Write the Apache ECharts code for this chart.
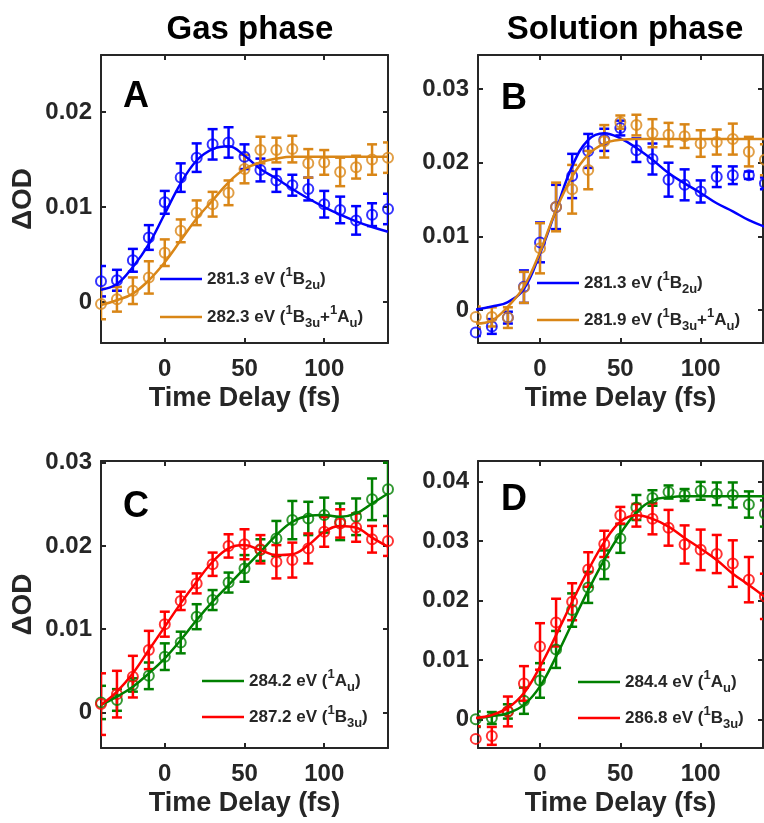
<!DOCTYPE html>
<html>
<head>
<meta charset="utf-8">
<script src="https://cdn.jsdelivr.net/npm/echarts@6/dist/echarts.min.js"></script>
<style>
  html, body { margin: 0; padding: 0; background: #fff; }
  #chart { width: 764px; height: 823px; }
</style>
</head>
<body>
<div id="chart"></div>
<script>
// ---------- data ----------
const timeFs = [-40, -30, -20, -10, 0, 10, 20, 30, 40, 50, 60, 70, 80, 90, 100, 110, 120, 130, 140];
const xTicks = [0, 50, 100];
const columnTitles = ['Gas phase', 'Solution phase'];
const panelLetters = ['A', 'B', 'C', 'D'];
const xAxisTitle = 'Time Delay (fs)';
const yAxisTitle = '\u0394OD';

// Panel A (gas phase)
const aBlueY   = [0.0022, 0.0023, 0.0044, 0.0068, 0.0105, 0.0131, 0.0152, 0.0166, 0.0168, 0.0153, 0.0139, 0.0128, 0.0123, 0.0119, 0.0103, 0.0097, 0.0086, 0.0092, 0.0098];
const aBlueErr = [0.0016, 0.0011, 0.0012, 0.0013, 0.0012, 0.0015, 0.0015, 0.0016, 0.0016, 0.0013, 0.0012, 0.0012, 0.0011, 0.0012, 0.0014, 0.0014, 0.0015, 0.0012, 0.0016];
const aBlueFit = [0.0013, 0.0019, 0.0037, 0.0061, 0.0093, 0.0125, 0.0149, 0.0161, 0.0164, 0.0154, 0.0140, 0.0130, 0.0119, 0.0109, 0.0100, 0.0092, 0.0085, 0.0079, 0.0074];
const aOrangeY   = [-0.0002, 0.0003, 0.0012, 0.0026, 0.0052, 0.0075, 0.0094, 0.0103, 0.0115, 0.0140, 0.0160, 0.0160, 0.0161, 0.0146, 0.0147, 0.0137, 0.0142, 0.0150, 0.0152];
const aOrangeErr = [0.0016, 0.0013, 0.0014, 0.0017, 0.0014, 0.0012, 0.0013, 0.0013, 0.0013, 0.0015, 0.0014, 0.0013, 0.0014, 0.0015, 0.0013, 0.0015, 0.0012, 0.0016, 0.0016];
const aOrangeFit = [-0.0003, 0.0002, 0.0009, 0.0023, 0.0042, 0.0065, 0.0088, 0.0107, 0.0126, 0.0140, 0.0147, 0.0151, 0.0153, 0.0153, 0.0153, 0.0153, 0.0153, 0.0153, 0.0153];

// Panel B (solution phase)
const bBlueY   = [-0.0030, -0.0022, -0.0010, 0.0032, 0.0092, 0.0140, 0.0182, 0.0216, 0.0231, 0.0247, 0.0217, 0.0205, 0.0177, 0.0170, 0.0161, 0.0181, 0.0183, 0.0183, 0.0172];
const bBlueErr = [0.0005, 0.0010, 0.0008, 0.0022, 0.0027, 0.0030, 0.0030, 0.0023, 0.0015, 0.0010, 0.0016, 0.0021, 0.0023, 0.0021, 0.0015, 0.0014, 0.0012, 0.0005, 0.0008];
const bBlueFit = [0.0001, 0.0005, 0.0011, 0.0029, 0.0077, 0.0136, 0.0195, 0.0231, 0.0240, 0.0233, 0.0220, 0.0204, 0.0186, 0.0172, 0.0159, 0.0145, 0.0134, 0.0122, 0.0113];
const bOrangeY   = [-0.0009, -0.0009, -0.0010, 0.0031, 0.0084, 0.0140, 0.0164, 0.0190, 0.0229, 0.0255, 0.0251, 0.0240, 0.0238, 0.0236, 0.0226, 0.0228, 0.0232, 0.0215, 0.0204];
const bOrangeErr = [0.0014, 0.0013, 0.0014, 0.0021, 0.0034, 0.0033, 0.0033, 0.0026, 0.0022, 0.0009, 0.0014, 0.0019, 0.0016, 0.0016, 0.0018, 0.0017, 0.0021, 0.0020, 0.0021];
const bOrangeFit = [-0.0018, -0.0014, 0.0005, 0.0032, 0.0079, 0.0136, 0.0181, 0.0211, 0.0226, 0.0231, 0.0232, 0.0232, 0.0232, 0.0232, 0.0232, 0.0232, 0.0232, 0.0232, 0.0232];

// Panel C (gas phase)
const cGreenY   = [0.0012, 0.0015, 0.0033, 0.0044, 0.0067, 0.0084, 0.0115, 0.0135, 0.0156, 0.0173, 0.0195, 0.0209, 0.0231, 0.0233, 0.0237, 0.0229, 0.0235, 0.0256, 0.0268];
const cGreenErr = [0.0020, 0.0013, 0.0008, 0.0016, 0.0016, 0.0013, 0.0015, 0.0012, 0.0012, 0.0016, 0.0013, 0.0021, 0.0023, 0.0020, 0.0021, 0.0022, 0.0022, 0.0025, 0.0032];
const cGreenFit = [0.0009, 0.0019, 0.0031, 0.0047, 0.0065, 0.0087, 0.0111, 0.0133, 0.0153, 0.0173, 0.0193, 0.0213, 0.0229, 0.0236, 0.0237, 0.0235, 0.0239, 0.0251, 0.0263];
const cRedY   = [0.0010, 0.0022, 0.0043, 0.0075, 0.0106, 0.0134, 0.0155, 0.0178, 0.0200, 0.0202, 0.0196, 0.0181, 0.0183, 0.0197, 0.0217, 0.0227, 0.0222, 0.0208, 0.0206];
const cRedErr = [0.0037, 0.0028, 0.0025, 0.0023, 0.0015, 0.0011, 0.0012, 0.0014, 0.0014, 0.0018, 0.0017, 0.0020, 0.0021, 0.0018, 0.0018, 0.0017, 0.0017, 0.0016, 0.0018];
const cRedFit = [0.0009, 0.0025, 0.0047, 0.0075, 0.0103, 0.0131, 0.0157, 0.0181, 0.0197, 0.0201, 0.0195, 0.0189, 0.0190, 0.0201, 0.0217, 0.0224, 0.0222, 0.0210, 0.0199];

// Panel D (solution phase)
const dGreenY   = [0.0001, 0.0003, 0.0014, 0.0032, 0.0066, 0.0118, 0.0184, 0.0222, 0.0260, 0.0304, 0.0356, 0.0372, 0.0382, 0.0377, 0.0384, 0.0379, 0.0377, 0.0361, 0.0346];
const dGreenErr = [0.0013, 0.0010, 0.0012, 0.0022, 0.0029, 0.0031, 0.0028, 0.0026, 0.0024, 0.0024, 0.0021, 0.0013, 0.0011, 0.0010, 0.0015, 0.0019, 0.0021, 0.0022, 0.0022];
const dGreenFit = [0.0003, 0.0006, 0.0011, 0.0025, 0.0056, 0.0106, 0.0162, 0.0217, 0.0268, 0.0312, 0.0348, 0.0368, 0.0373, 0.0375, 0.0375, 0.0375, 0.0375, 0.0375, 0.0375];
const dRedY   = [-0.0032, -0.0027, 0.0014, 0.0061, 0.0123, 0.0163, 0.0198, 0.0252, 0.0295, 0.0343, 0.0343, 0.0337, 0.0322, 0.0294, 0.0285, 0.0278, 0.0262, 0.0235, 0.0207];
const dRedErr = [0.0021, 0.0015, 0.0025, 0.0029, 0.0039, 0.0040, 0.0031, 0.0029, 0.0022, 0.0014, 0.0019, 0.0026, 0.0030, 0.0032, 0.0034, 0.0032, 0.0039, 0.0038, 0.0038];
const dRedFit = [0.0003, 0.0008, 0.0020, 0.0045, 0.0089, 0.0142, 0.0198, 0.0251, 0.0298, 0.0332, 0.0343, 0.0337, 0.0324, 0.0305, 0.0287, 0.0268, 0.0245, 0.0226, 0.0206];

// Legend labels
const legendA = ['281.3 eV', '282.3 eV'];
const legendB = ['281.3 eV', '281.9 eV'];
const legendC = ['284.2 eV', '287.2 eV'];
const legendD = ['284.4 eV', '286.8 eV'];
const yTicksA = [0, 0.01, 0.02];
const yTicksB = [0, 0.01, 0.02, 0.03];
const yTicksC = [0, 0.01, 0.02, 0.03];
const yTicksD = [0, 0.01, 0.02, 0.03, 0.04];

// ---------- styling ----------
const FONT = '"Liberation Sans", Arial, Helvetica, sans-serif';
const AX = '#262626';
const BLUE = '#0000FF';
const ORANGE = '#D98617';
const GREEN = '#008000';
const RED = '#FF0000';

// rich legend strings (state symbols with super/subscripts)
const sym = {
  B2u: '{n|(}{sup|1}{n|B}{sub|2u}{n|)}',
  B3uAu: '{n|(}{sup|1}{n|B}{sub|3u}{n|+}{sup|1}{n|A}{sub|u}{n|)}',
  Au: '{n|(}{sup|1}{n|A}{sub|u}{n|)}',
  B3u: '{n|(}{sup|1}{n|B}{sub|3u}{n|)}'
};

const panels = [
  { key: 'A', grid: { left: 101, top: 55, width: 287, height: 288 }, x: [-40, 140], y: [-0.0043, 0.026], yTicks: yTicksA,
    letterPos: [118, 74],
    sets: [
      { name: 'A1', color: BLUE, y: aBlueY, err: aBlueErr, fit: aBlueFit, label: legendA[0], sym: sym.B2u, leg: [160, 279] },
      { name: 'A2', color: ORANGE, y: aOrangeY, err: aOrangeErr, fit: aOrangeFit, label: legendA[1], sym: sym.B3uAu, leg: [160, 317] }
    ], yName: true },
  { key: 'B', grid: { left: 478, top: 55, width: 285, height: 288 }, x: [-38.6, 138.8], y: [-0.00444, 0.0346], yTicks: yTicksB,
    letterPos: [496, 76],
    sets: [
      { name: 'B1', color: BLUE, y: bBlueY, err: bBlueErr, fit: bBlueFit, label: legendB[0], sym: sym.B2u, leg: [537, 283] },
      { name: 'B2', color: ORANGE, y: bOrangeY, err: bOrangeErr, fit: bOrangeFit, label: legendB[1], sym: sym.B3uAu, leg: [537, 320] }
    ], yName: false },
  { key: 'C', grid: { left: 101, top: 461, width: 287, height: 287 }, x: [-40, 140], y: [-0.00427, 0.0302], yTicks: yTicksC,
    letterPos: [118, 484],
    sets: [
      { name: 'C1', color: GREEN, y: cGreenY, err: cGreenErr, fit: cGreenFit, label: legendC[0], sym: sym.Au, leg: [202, 681] },
      { name: 'C2', color: RED, y: cRedY, err: cRedErr, fit: cRedFit, label: legendC[1], sym: sym.B3u, leg: [202, 717] }
    ], yName: true },
  { key: 'D', grid: { left: 478, top: 461, width: 285, height: 287 }, x: [-38.6, 138.8], y: [-0.00473, 0.0434], yTicks: yTicksD,
    letterPos: [496, 477],
    sets: [
      { name: 'D1', color: GREEN, y: dGreenY, err: dGreenErr, fit: dGreenFit, label: legendD[0], sym: sym.Au, leg: [578, 682] },
      { name: 'D2', color: RED, y: dRedY, err: dRedErr, fit: dRedFit, label: legendD[1], sym: sym.B3u, leg: [578, 718] }
    ], yName: false }
];

const richStyle = {
  n:   { fontSize: 17, fontWeight: 'bold', fontFamily: FONT, color: AX, lineHeight: 26 },
  sup: { fontSize: 13, fontWeight: 'bold', fontFamily: FONT, color: AX, lineHeight: 26, verticalAlign: 'top' },
  sub: { fontSize: 13, fontWeight: 'bold', fontFamily: FONT, color: AX, lineHeight: 26, verticalAlign: 'bottom' }
};

const option = {
  animation: false,
  backgroundColor: '#ffffff',
  title: [], grid: [], xAxis: [], yAxis: [], series: [], legend: []
};

option.title.push({ text: columnTitles[0], left: 245, top: 8, textAlign: 'center',
  textStyle: { fontFamily: FONT, fontSize: 33, fontWeight: 'bold', color: '#000' } });
option.title.push({ text: columnTitles[1], left: 620, top: 8, textAlign: 'center',
  textStyle: { fontFamily: FONT, fontSize: 33, fontWeight: 'bold', color: '#000' } });

const axisLineStyle = { color: AX, width: 2 };

panels.forEach((p, i) => {
  option.grid.push(Object.assign({ containLabel: false }, p.grid));
  option.title.push({ text: panelLetters[i], left: p.letterPos[0], top: p.letterPos[1],
    textStyle: { fontFamily: FONT, fontSize: 36, fontWeight: 'bold', color: '#000' } });

  const xBase = { type: 'value', gridIndex: i, min: p.x[0], max: p.x[1], splitLine: { show: false } };
  option.xAxis.push(Object.assign({}, xBase, {
    position: 'bottom',
    axisLine: { show: true, onZero: false, lineStyle: axisLineStyle },
    axisTick: { show: true, inside: true, length: 5, customValues: xTicks, lineStyle: axisLineStyle },
    axisLabel: { show: true, customValues: xTicks, margin: 14, fontFamily: FONT, fontSize: 24, fontWeight: 'bold', color: AX },
    name: xAxisTitle, nameLocation: 'middle', nameGap: 42,
    nameTextStyle: { fontFamily: FONT, fontSize: 27, fontWeight: 'bold', color: AX }
  }));
  option.xAxis.push(Object.assign({}, xBase, {
    position: 'top',
    axisLine: { show: true, onZero: false, lineStyle: axisLineStyle },
    axisTick: { show: true, inside: true, length: 5, customValues: xTicks, lineStyle: axisLineStyle },
    axisLabel: { show: false }
  }));
  const yBase = { type: 'value', gridIndex: i, min: p.y[0], max: p.y[1], splitLine: { show: false } };
  option.yAxis.push(Object.assign({}, yBase, {
    position: 'left',
    axisLine: { show: true, onZero: false, lineStyle: axisLineStyle },
    axisTick: { show: true, inside: true, length: 5, customValues: p.yTicks, lineStyle: axisLineStyle },
    axisLabel: { show: true, customValues: p.yTicks, margin: 9, fontFamily: FONT, fontSize: 24, fontWeight: 'bold', color: AX,
      formatter: v => (Math.abs(v) < 1e-12 ? '0' : String(+v.toFixed(3))) },
    name: p.yName ? yAxisTitle : '', nameLocation: 'middle', nameGap: 64, nameRotate: 90,
    nameTextStyle: { fontFamily: FONT, fontSize: 28, fontWeight: 'bold', color: AX }
  }));
  option.yAxis.push(Object.assign({}, yBase, {
    position: 'right',
    axisLine: { show: true, onZero: false, lineStyle: axisLineStyle },
    axisTick: { show: true, inside: true, length: 5, customValues: p.yTicks, lineStyle: axisLineStyle },
    axisLabel: { show: false }
  }));

  p.sets.forEach(s => {
    const color = s.color;
    // error bars
    option.series.push({
      type: 'custom', name: s.name + ' err', xAxisIndex: 2 * i, yAxisIndex: 2 * i, clip: true, z: 2,
      data: timeFs.map((t, k) => [t, s.y[k], s.err[k]]),
      encode: { x: 0, y: 1 },
      renderItem: (params, api) => {
        const x = api.value(0), y = api.value(1), e = api.value(2);
        const lo = api.coord([x, y - e]), hi = api.coord([x, y + e]);
        const w = 5;
        const st = { stroke: color, lineWidth: 2.5 };
        return { type: 'group', children: [
          { type: 'line', shape: { x1: lo[0], y1: lo[1], x2: hi[0], y2: hi[1] }, style: st },
          { type: 'line', shape: { x1: lo[0] - w, y1: lo[1], x2: lo[0] + w, y2: lo[1] }, style: st },
          { type: 'line', shape: { x1: hi[0] - w, y1: hi[1], x2: hi[0] + w, y2: hi[1] }, style: st }
        ] };
      }
    });
    // data points (hollow circles)
    option.series.push({
      type: 'scatter', name: s.name + ' pts', xAxisIndex: 2 * i, yAxisIndex: 2 * i, z: 3, clip: false,
      symbol: 'circle', symbolSize: 10,
      itemStyle: { color: 'rgba(255,255,255,0)', borderColor: color, borderWidth: 2 },
      data: timeFs.map((t, k) => [t, s.y[k]])
    });
    // fit line
    option.series.push({
      type: 'line', name: s.name, xAxisIndex: 2 * i, yAxisIndex: 2 * i, z: 4,
      smooth: 0.4, symbol: 'none', showSymbol: false, color: color,
      lineStyle: { color: color, width: 2.5 },
      data: timeFs.map((t, k) => [t, s.fit[k]])
    });
    // legend (line-only icon)
    option.legend.push({
      data: [{ name: s.name, icon: 'rect' }], left: s.leg[0], top: s.leg[1] - 13, padding: 0,
      itemWidth: 42, itemHeight: 2.5, itemGap: 0, selectedMode: false,
      formatter: () => '{n|' + s.label + ' }' + s.sym,
      textStyle: { rich: richStyle, fontFamily: FONT, fontSize: 17, fontWeight: 'bold', color: AX }
    });
  });
});

const chart = echarts.init(document.getElementById('chart'), null, { renderer: 'canvas' });
chart.setOption(option);
</script>
</body>
</html>
